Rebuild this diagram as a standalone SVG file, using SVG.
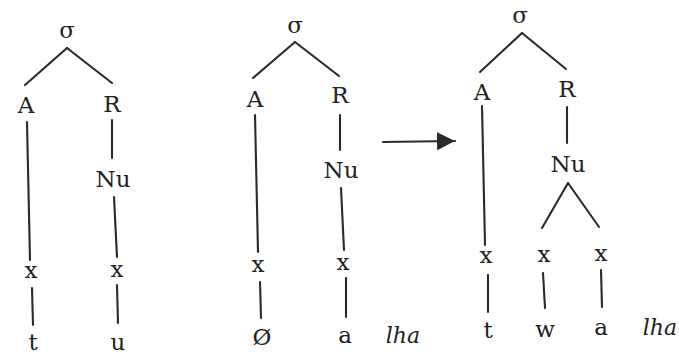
<svg xmlns="http://www.w3.org/2000/svg" width="679" height="354" viewBox="0 0 679 354">
<defs>
<style>
text{font-family:'DejaVu Serif','Liberation Serif',serif;font-size:23px;fill:#222;text-anchor:middle}
.it{font-style:italic;font-size:22px}
.e line{stroke:#2a2a2a;stroke-width:2.1;stroke-linecap:round}
</style>
<marker id="ah" markerUnits="userSpaceOnUse" markerWidth="20" markerHeight="20" refX="18" refY="9" orient="auto">
<path d="M0,0 L18,9 L0,18 Z" fill="#2a2a2a"/>
</marker>
</defs>
<rect width="679" height="354" fill="#fff"/>
<g id="tree1">
<g id="t1-sigma"><text x="67" y="38">σ</text></g>
<g id="t1-A"><text x="26" y="113">A</text></g>
<g id="t1-R"><text x="112" y="112">R</text></g>
<g id="t1-Nu"><text x="113" y="187">Nu</text></g>
<g id="t1-x1"><text x="31" y="278">x</text></g>
<g id="t1-x2"><text x="117" y="277">x</text></g>
<g id="t1-t"><text x="33" y="350">t</text></g>
<g id="t1-u"><text x="118" y="350">u</text></g>
</g>
<g id="tree2">
<g id="t2-sigma"><text x="295" y="33">σ</text></g>
<g id="t2-A"><text x="255" y="107">A</text></g>
<g id="t2-R"><text x="340" y="103">R</text></g>
<g id="t2-Nu"><text x="341" y="178">Nu</text></g>
<g id="t2-x1"><text x="258" y="272">x</text></g>
<g id="t2-x2"><text x="343" y="270">x</text></g>
<g id="t2-null"><text x="262" y="345">Ø</text></g>
<g id="t2-a"><text x="345" y="343">a</text></g>
<g id="t2-lha"><text class="it" x="403" y="343">lha</text></g>
</g>
<g id="tree3">
<g id="t3-sigma"><text x="520" y="23">σ</text></g>
<g id="t3-A"><text x="482" y="100">A</text></g>
<g id="t3-R"><text x="567" y="97">R</text></g>
<g id="t3-Nu"><text x="568" y="172">Nu</text></g>
<g id="t3-x1"><text x="486" y="263">x</text></g>
<g id="t3-x2"><text x="544" y="262">x</text></g>
<g id="t3-x3"><text x="601" y="261">x</text></g>
<g id="t3-t"><text x="488" y="338">t</text></g>
<g id="t3-w"><text x="545" y="337">w</text></g>
<g id="t3-a"><text x="601" y="335">a</text></g>
<g id="t3-lha"><text class="it" x="660" y="335">lha</text></g>
</g>
<g id="connectors" class="e">
<line x1="67" y1="48" x2="25" y2="85"/>
<line x1="67" y1="48" x2="112" y2="83"/>
<line x1="27" y1="122" x2="30" y2="260"/>
<line x1="112" y1="120" x2="112" y2="158"/>
<line x1="114" y1="197" x2="117" y2="257"/>
<line x1="32" y1="288" x2="33" y2="325"/>
<line x1="117" y1="285" x2="118" y2="323"/>
<line x1="295" y1="42" x2="253" y2="78"/>
<line x1="295" y1="42" x2="339" y2="76"/>
<line x1="255" y1="115" x2="258" y2="252"/>
<line x1="340" y1="115" x2="340" y2="150"/>
<line x1="341" y1="188" x2="344" y2="250"/>
<line x1="260" y1="282" x2="261" y2="318"/>
<line x1="346" y1="278" x2="346" y2="317"/>
<line x1="383" y1="142" x2="455" y2="141" stroke-width="2.4" marker-end="url(#ah)"/>
<line x1="522" y1="33" x2="480" y2="72"/>
<line x1="522" y1="33" x2="566" y2="69"/>
<line x1="482" y1="106" x2="485" y2="245"/>
<line x1="567" y1="107" x2="567" y2="143"/>
<line x1="568" y1="183" x2="542" y2="228"/>
<line x1="568" y1="183" x2="599" y2="227"/>
<line x1="488" y1="275" x2="488" y2="312"/>
<line x1="543" y1="273" x2="545" y2="308"/>
<line x1="601" y1="270" x2="602" y2="307"/>
</g>
</svg>
